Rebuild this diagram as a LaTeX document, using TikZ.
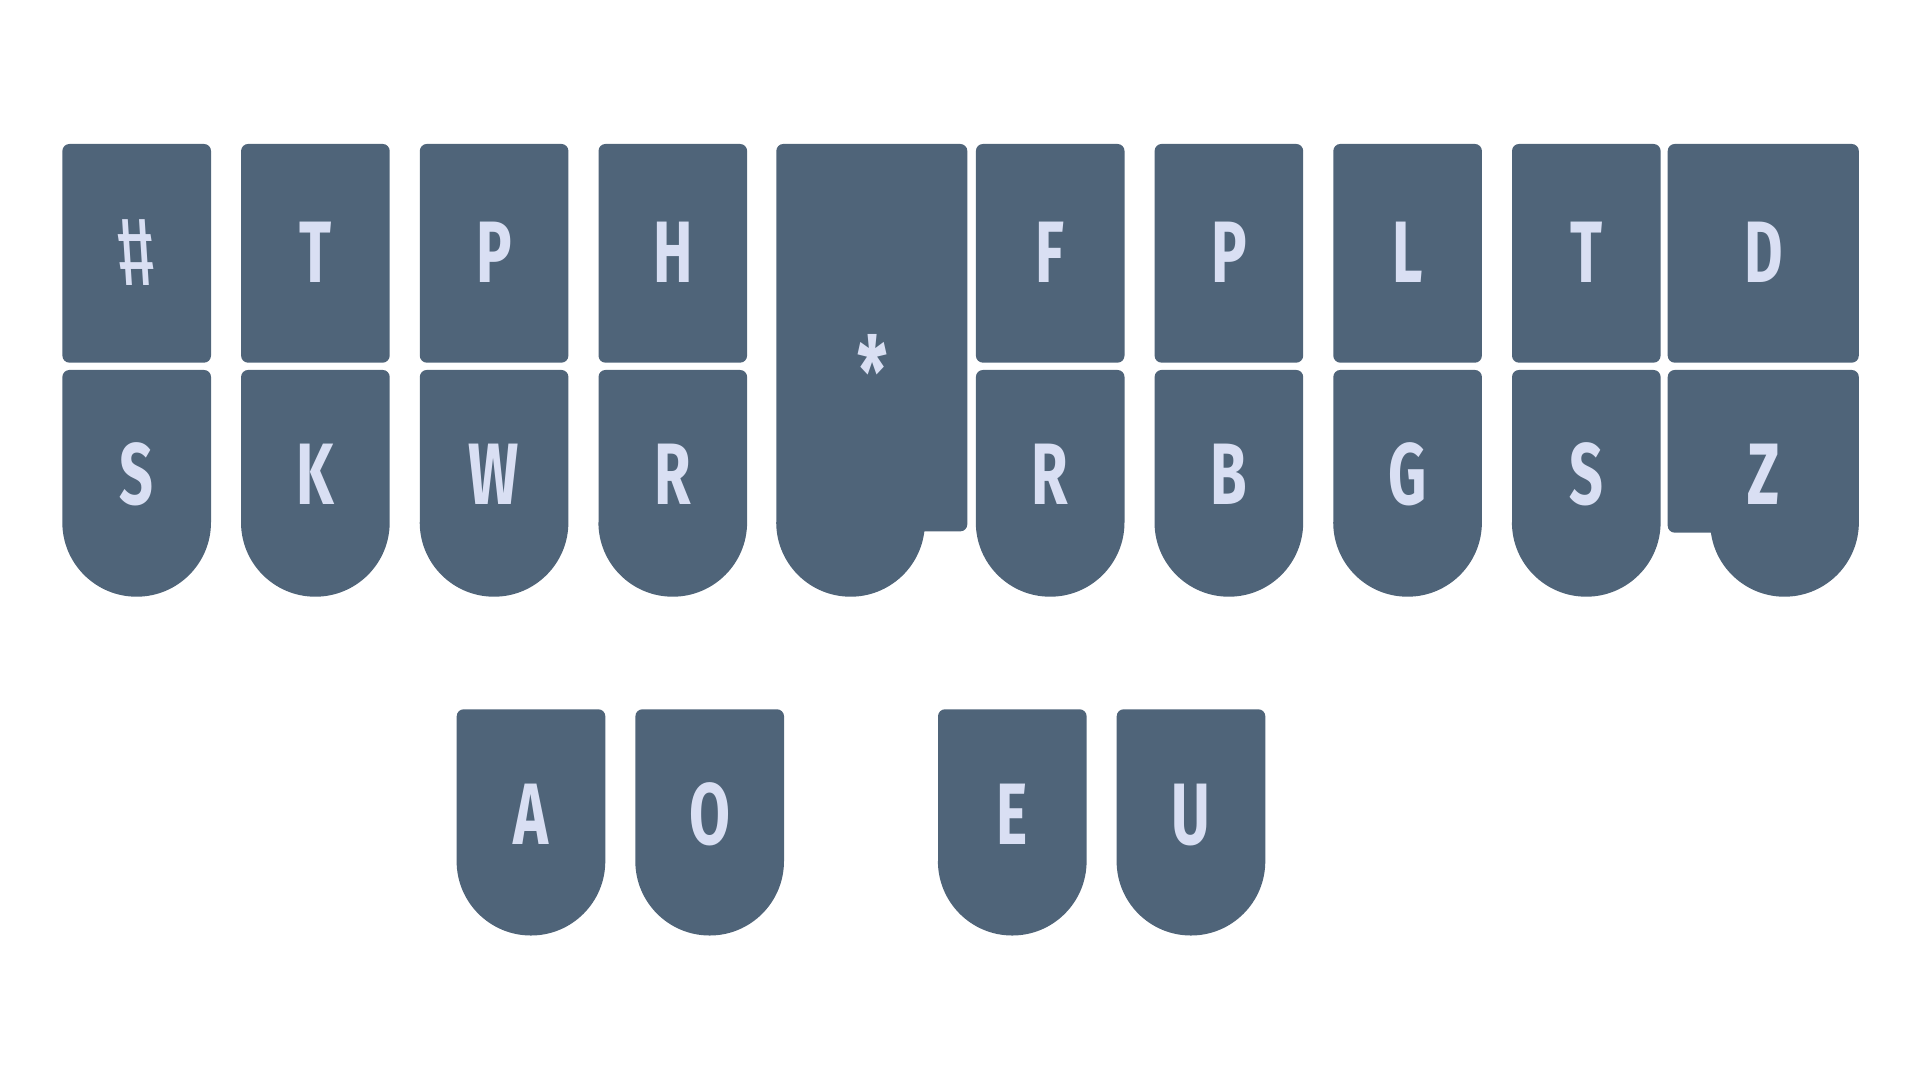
\documentclass[tikz,border=0pt]{standalone}
\usepackage{fontspec}
\newfontfamily\keyfont[FakeStretch=0.68]{Fira Sans}
\newfontfamily\hashfont[FakeStretch=0.74,FakeSlant=-0.16]{Fira Sans}
\definecolor{keyfill}{HTML}{4F6479}
\definecolor{keytext}{HTML}{D9DFF3}
\newcommand\topkey[3]{%
  \fill[keyshape, rounded corners=0.07cm] (#2,717.3) rectangle ++(148.6,218.7);
  \node[keylabel] (#1) at (#2+74.3,797) {#3};}
% rounded-top key with a half-circle bottom; #4 = top y, #5 = circle centre y, #6 = label baseline
\newcommand\roundkey[6]{%
  \fill[keyshape] (#2,#5) -- (#2,#4-7) arc[start angle=180,end angle=90,radius=0.07cm]
    -- (#2+141.6,#4) arc[start angle=90,end angle=0,radius=0.07cm]
    -- (#2+148.6,#5) arc[start angle=0,end angle=-180,radius=0.743cm] -- cycle;
  \node[keylabel] (#1) at (#2+74.3,#6) {#3};}
\begin{document}
\begin{tikzpicture}[x=0.01cm,y=0.01cm,
  keyshape/.style={fill=keyfill, draw=none},
  keylabel/.style={text=keytext, font=\keyfont\bfseries\fontsize{24.8}{26}\selectfont, anchor=base, inner sep=0pt}]
\useasboundingbox (0,0) rectangle (1920,1080);
% top row
\fill[keyshape, rounded corners=0.07cm] (62.4,717.3) rectangle ++(148.6,218.7);
\node[keylabel, font=\hashfont\fontsize{28}{30}\selectfont] (knum) at (141.5,794) {\#};
\topkey{ktl}{241.1}{T}
\topkey{kpl}{419.8}{P}
\topkey{khl}{598.5}{H}
\topkey{kfr}{975.9}{F}
\topkey{kpr}{1154.6}{P}
\topkey{klr}{1333.3}{L}
\topkey{ktr}{1512.0}{T}
% bottom row
\roundkey{ksl}{62.4}{S}{710}{557.6}{575}
\roundkey{kkl}{241.1}{K}{710}{557.6}{575}
\roundkey{kwl}{419.8}{W}{710}{557.6}{575}
\roundkey{krl}{598.5}{R}{710}{557.6}{575}
\roundkey{krr}{975.9}{R}{710}{557.6}{575}
\roundkey{kbr}{1154.6}{B}{710}{557.6}{575}
\roundkey{kgr}{1333.3}{G}{710}{557.6}{575}
\roundkey{ksr}{1512.0}{S}{710}{557.6}{575}
% star key
\fill[keyshape] (776.3,557.6) -- (776.3,929) arc[start angle=180,end angle=90,radius=0.07cm]
  -- (960.3,936) arc[start angle=90,end angle=0,radius=0.07cm]
  -- (967.3,555.6) arc[start angle=0,end angle=-90,radius=0.07cm]
  -- (924.35,548.6) arc[start angle=-6.96,end angle=-180,radius=0.743cm] -- cycle;
\node[keylabel, font=\keyfont\bfseries\fontsize{28}{30}\selectfont] (kstar) at (873,672) {*};
% D key (wide)
\fill[keyshape, rounded corners=0.07cm] (1667.7,717.3) rectangle (1858.8,936);
\node[keylabel] (kd) at (1763.3,797) {D};
% Z key
\fill[keyshape] (1858.8,557.6) -- (1858.8,703) arc[start angle=0,end angle=90,radius=0.07cm]
  -- (1674.7,710) arc[start angle=90,end angle=180,radius=0.07cm]
  -- (1667.7,554.3) arc[start angle=180,end angle=270,radius=0.07cm]
  -- (1710.9,547.3) arc[start angle=187.97,end angle=360,radius=0.743cm] -- cycle;
\node[keylabel] (kz) at (1763.3,575) {Z};
% thumb keys
\roundkey{ka}{456.7}{A}{370.7}{218.8}{235.7}
\roundkey{ko}{635.4}{O}{370.7}{218.8}{235.7}
\roundkey{ke}{938.0}{E}{370.7}{218.8}{235.7}
\roundkey{ku}{1116.7}{U}{370.7}{218.8}{235.7}
\end{tikzpicture}
\end{document}
